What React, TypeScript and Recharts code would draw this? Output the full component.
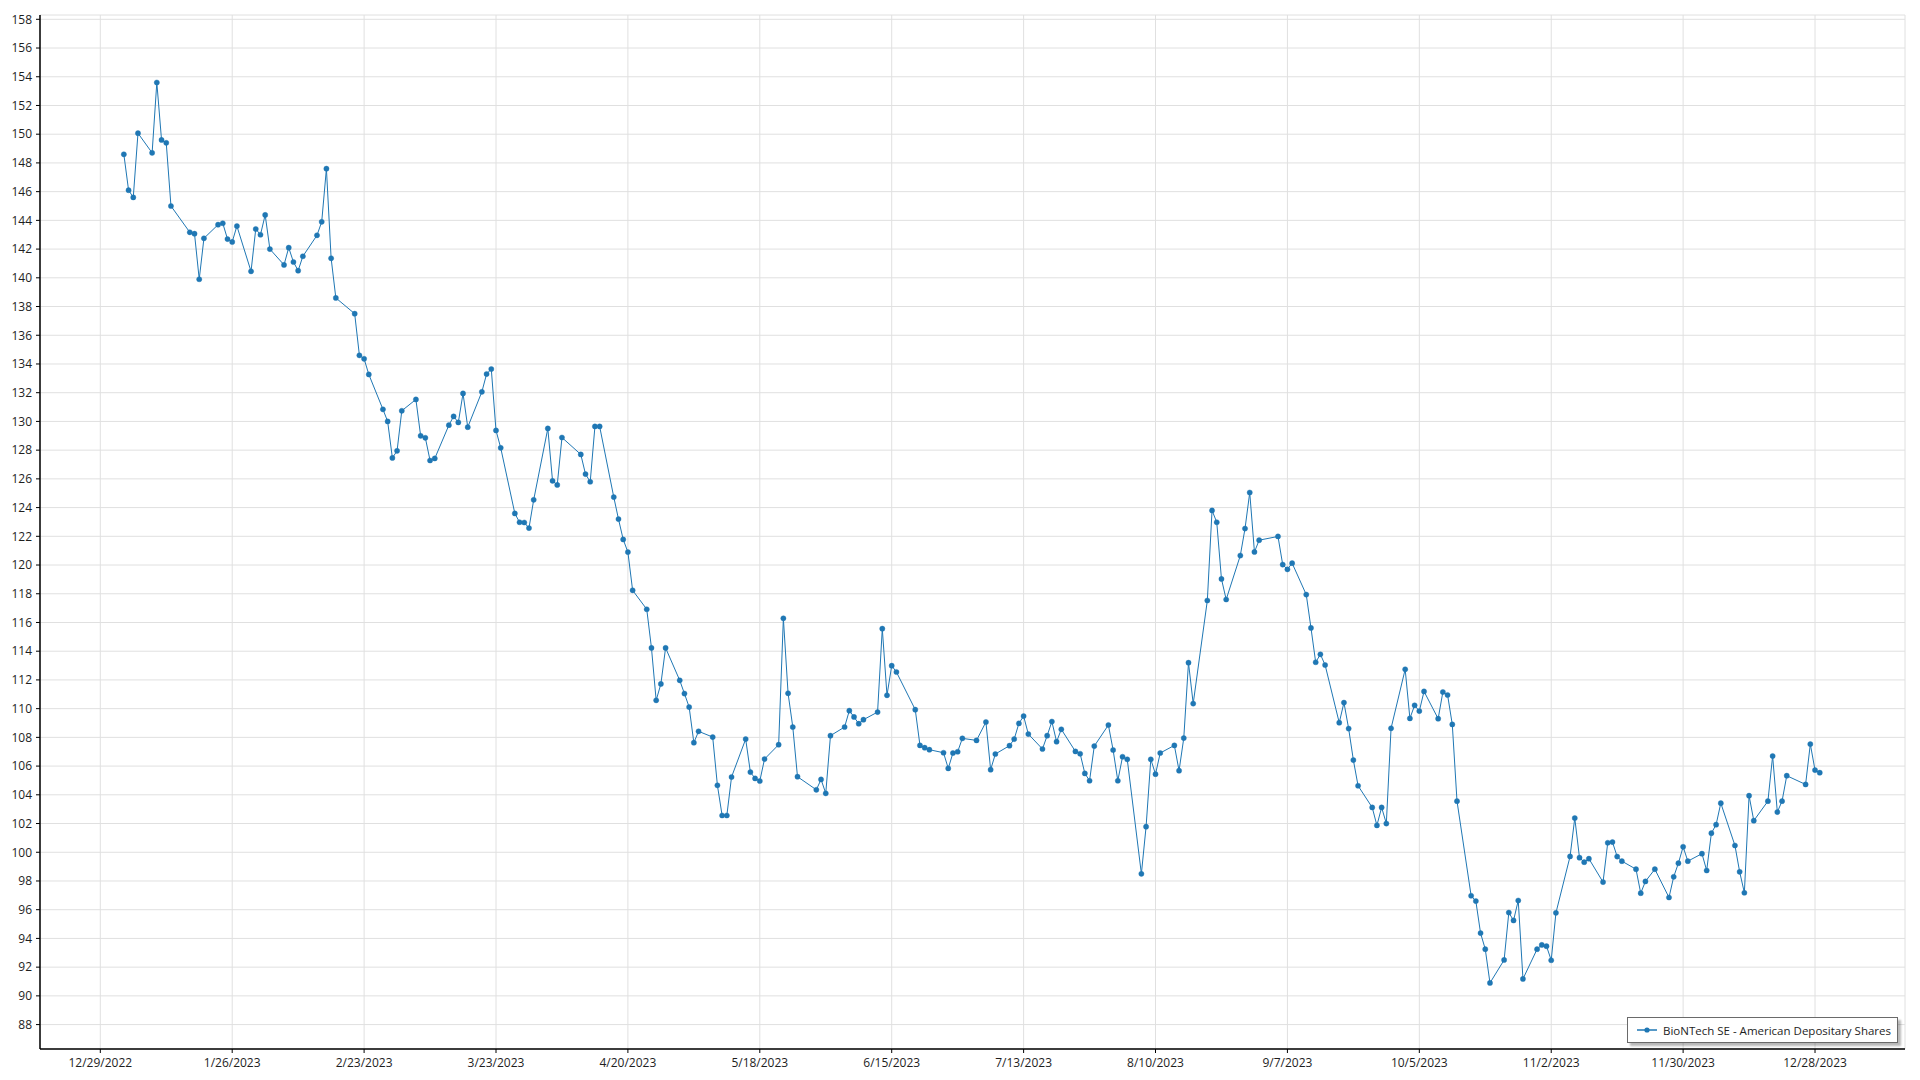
import React from 'react';
import { LineChart, Line, XAxis, YAxis, CartesianGrid, Legend } from 'recharts';

const seriesName = 'BioNTech SE - American Depositary Shares';

const tradeDates = [
  '2023-01-03','2023-01-04','2023-01-05','2023-01-06','2023-01-09','2023-01-10','2023-01-11','2023-01-12','2023-01-13',
  '2023-01-17','2023-01-18','2023-01-19','2023-01-20','2023-01-23','2023-01-24','2023-01-25','2023-01-26','2023-01-27',
  '2023-01-30','2023-01-31','2023-02-01','2023-02-02','2023-02-03','2023-02-06','2023-02-07','2023-02-08','2023-02-09',
  '2023-02-10','2023-02-13','2023-02-14','2023-02-15','2023-02-16','2023-02-17','2023-02-21','2023-02-22','2023-02-23',
  '2023-02-24','2023-02-27','2023-02-28','2023-03-01','2023-03-02','2023-03-03','2023-03-06','2023-03-07','2023-03-08',
  '2023-03-09','2023-03-10','2023-03-13','2023-03-14','2023-03-15','2023-03-16','2023-03-17','2023-03-20','2023-03-21',
  '2023-03-22','2023-03-23','2023-03-24','2023-03-27','2023-03-28','2023-03-29','2023-03-30','2023-03-31','2023-04-03',
  '2023-04-04','2023-04-05','2023-04-06','2023-04-10','2023-04-11','2023-04-12','2023-04-13','2023-04-14','2023-04-17',
  '2023-04-18','2023-04-19','2023-04-20','2023-04-21','2023-04-24','2023-04-25','2023-04-26','2023-04-27','2023-04-28',
  '2023-05-01','2023-05-02','2023-05-03','2023-05-04','2023-05-05','2023-05-08','2023-05-09','2023-05-10','2023-05-11',
  '2023-05-12','2023-05-15','2023-05-16','2023-05-17','2023-05-18','2023-05-19','2023-05-22','2023-05-23','2023-05-24',
  '2023-05-25','2023-05-26','2023-05-30','2023-05-31','2023-06-01','2023-06-02','2023-06-05','2023-06-06','2023-06-07',
  '2023-06-08','2023-06-09','2023-06-12','2023-06-13','2023-06-14','2023-06-15','2023-06-16','2023-06-20','2023-06-21',
  '2023-06-22','2023-06-23','2023-06-26','2023-06-27','2023-06-28','2023-06-29','2023-06-30','2023-07-03','2023-07-05',
  '2023-07-06','2023-07-07','2023-07-10','2023-07-11','2023-07-12','2023-07-13','2023-07-14','2023-07-17','2023-07-18',
  '2023-07-19','2023-07-20','2023-07-21','2023-07-24','2023-07-25','2023-07-26','2023-07-27','2023-07-28','2023-07-31',
  '2023-08-01','2023-08-02','2023-08-03','2023-08-04','2023-08-07','2023-08-08','2023-08-09','2023-08-10','2023-08-11',
  '2023-08-14','2023-08-15','2023-08-16','2023-08-17','2023-08-18','2023-08-21','2023-08-22','2023-08-23','2023-08-24',
  '2023-08-25','2023-08-28','2023-08-29','2023-08-30','2023-08-31','2023-09-01','2023-09-05','2023-09-06','2023-09-07',
  '2023-09-08','2023-09-11','2023-09-12','2023-09-13','2023-09-14','2023-09-15','2023-09-18','2023-09-19','2023-09-20',
  '2023-09-21','2023-09-22','2023-09-25','2023-09-26','2023-09-27','2023-09-28','2023-09-29','2023-10-02','2023-10-03',
  '2023-10-04','2023-10-05','2023-10-06','2023-10-09','2023-10-10','2023-10-11','2023-10-12','2023-10-13','2023-10-16',
  '2023-10-17','2023-10-18','2023-10-19','2023-10-20','2023-10-23','2023-10-24','2023-10-25','2023-10-26','2023-10-27',
  '2023-10-30','2023-10-31','2023-11-01','2023-11-02','2023-11-03','2023-11-06','2023-11-07','2023-11-08','2023-11-09',
  '2023-11-10','2023-11-13','2023-11-14','2023-11-15','2023-11-16','2023-11-17','2023-11-20','2023-11-21','2023-11-22',
  '2023-11-24','2023-11-27','2023-11-28','2023-11-29','2023-11-30','2023-12-01','2023-12-04','2023-12-05','2023-12-06',
  '2023-12-07','2023-12-08','2023-12-11','2023-12-12','2023-12-13','2023-12-14','2023-12-15','2023-12-18','2023-12-19',
  '2023-12-20','2023-12-21','2023-12-22','2023-12-26','2023-12-27','2023-12-28','2023-12-29',
];

const closePrices = [
  148.6,146.1,145.6,150.07,148.7,153.6,149.6,149.4,145.0,
  143.17,143.07,139.9,142.75,143.7,143.8,142.7,142.5,143.6,
  140.45,143.4,143.0,144.38,142.0,140.9,142.1,141.1,140.5,
  141.5,142.96,143.9,147.6,141.36,138.6,137.5,134.6,134.36,
  133.27,130.84,130.0,127.46,127.95,130.74,131.53,129.0,128.86,
  127.28,127.42,129.74,130.35,129.93,131.95,129.6,132.06,133.3,
  133.65,129.37,128.16,123.59,122.98,122.96,122.57,124.54,129.51,
  125.86,125.58,128.88,127.7,126.33,125.8,129.65,129.65,124.73,
  123.2,121.78,120.9,118.24,116.92,114.23,110.58,111.72,114.23,
  111.97,111.05,110.11,107.63,108.42,108.02,104.66,102.56,102.56,
  105.24,107.88,105.58,105.14,104.96,106.49,107.49,116.29,111.07,
  108.72,105.26,104.35,105.07,104.1,108.12,108.72,109.86,109.42,
  108.95,109.23,109.76,115.57,110.93,112.99,112.55,109.93,107.44,
  107.28,107.14,106.93,105.84,106.91,107.0,107.93,107.79,109.07,
  105.75,106.84,107.42,107.88,108.97,109.48,108.23,107.19,108.12,
  109.1,107.7,108.56,107.02,106.86,105.49,104.98,107.39,108.86,
  107.12,104.98,106.65,106.47,98.5,101.78,106.47,105.44,106.91,
  107.44,105.68,107.95,113.2,110.35,117.53,123.8,122.98,119.03,
  117.6,120.66,122.54,125.05,120.91,121.73,121.99,120.03,119.7,
  120.13,117.94,115.62,113.23,113.78,113.04,109.02,110.42,108.61,
  106.42,104.63,103.12,101.87,103.12,102.0,108.63,112.74,109.32,
  110.23,109.83,111.2,109.3,111.16,110.95,108.9,103.56,96.97,
  96.6,94.37,93.25,90.9,92.5,95.8,95.25,96.64,91.18,
  93.25,93.55,93.46,92.48,95.78,99.71,102.38,99.62,99.31,
  99.55,97.92,100.66,100.71,99.7,99.38,98.82,97.15,97.97,
  98.82,96.85,98.29,99.24,100.38,99.38,99.9,98.73,101.33,
  101.92,103.42,100.47,98.64,97.18,103.94,102.2,103.56,106.7,
  102.8,103.56,105.33,104.72,107.53,105.72,105.54,
];

const xTickDates = [
  '2022-12-29','2023-01-26','2023-02-23','2023-03-23','2023-04-20','2023-05-18','2023-06-15',
  '2023-07-13','2023-08-10','2023-09-07','2023-10-05','2023-11-02','2023-11-30','2023-12-28',
];

const yTicks = [88,90,92,94,96,98,100,102,104,106,108,110,112,114,116,118,120,122,124,126,128,130,132,134,136,138,140,142,144,146,148,150,152,154,156,158];

const xDomain = [-12.8, 383.1];
const yDomain = [86.3, 158.3];

const ORIGIN = Date.UTC(2022, 11, 29);
const DAY = 86400000;
const toDay = (iso: string) => {
  const [y, m, d] = iso.split('-').map(Number);
  return (Date.UTC(y, m - 1, d) - ORIGIN) / DAY;
};
const fmtDate = (v: number) => {
  const dt = new Date(ORIGIN + Math.round(v) * DAY);
  return `${dt.getUTCMonth() + 1}/${dt.getUTCDate()}/${dt.getUTCFullYear()}`;
};

const data = tradeDates.map((d, i) => ({ day: toDay(d), price: closePrices[i] }));
const xTicks = xTickDates.map(toDay);
const minorTicks = Array.from({ length: 180 }, (_, i) => Math.round((86.4 + i * 0.4) * 10) / 10).filter((v) => v <= 158);

const FONT = "'Segoe UI', 'Open Sans', sans-serif";
const BLUE = '#1f77b4';

const LegendBox = () => (
  <div
    style={{
      boxSizing: 'border-box',
      width: 271,
      height: 26,
      border: '1.5px solid #6a6a6a',
      background: '#fff',
      boxShadow: '3px 3px 2px rgba(0,0,0,0.28)',
      display: 'flex',
      alignItems: 'center',
      paddingLeft: 9,
      fontFamily: FONT,
      fontSize: 11.5,
      color: '#1e1e1e',
      whiteSpace: 'nowrap',
    }}
  >
    <svg width={20} height={8} style={{ marginRight: 6 }}>
      <line x1={0} y1={4} x2={20} y2={4} stroke={BLUE} strokeWidth={1.5} />
      <circle cx={10} cy={4} r={2.6} fill={BLUE} />
    </svg>
    <span>{seriesName}</span>
  </div>
);

export default function App() {
  return (
    <div style={{ fontFamily: FONT }}>
      <LineChart width={1904} height={1064} data={data} margin={{ top: 7, right: 7, bottom: 0, left: 0 }}>
        <CartesianGrid stroke="#e0e0e0" strokeWidth={1} />
        <XAxis
          dataKey="day"
          type="number"
          domain={xDomain}
          allowDataOverflow
          ticks={xTicks}
          interval={0}
          tickFormatter={fmtDate}
          height={23}
          tickSize={4}
          tickMargin={5}
          axisLine={{ stroke: '#000', strokeWidth: 1.5 }}
          tickLine={{ stroke: '#000' }}
          tick={{ fill: '#1e1e1e', fontSize: 12 }}
        />
        <XAxis
          xAxisId="top"
          orientation="top"
          dataKey="day"
          type="number"
          domain={xDomain}
          allowDataOverflow
          height={0}
          tick={false}
          tickLine={false}
          axisLine={{ stroke: '#000', strokeWidth: 1.2 }}
        />
        <YAxis
          yAxisId="minor"
          type="number"
          domain={yDomain}
          allowDataOverflow
          ticks={minorTicks}
          interval={0}
          width={0}
          tick={false}
          tickSize={2}
          axisLine={false}
          tickLine={{ stroke: '#000' }}
        />
        <YAxis
          type="number"
          domain={yDomain}
          allowDataOverflow
          ticks={yTicks}
          interval={0}
          width={32}
          tickSize={4}
          tickMargin={4}
          axisLine={{ stroke: '#000', strokeWidth: 1.5 }}
          tickLine={{ stroke: '#000' }}
          tick={{ fill: '#1e1e1e', fontSize: 12 }}
        />
        <YAxis
          yAxisId="right"
          orientation="right"
          type="number"
          domain={yDomain}
          allowDataOverflow
          width={0}
          tick={false}
          tickLine={false}
          axisLine={{ stroke: '#000', strokeWidth: 1.2 }}
        />
        <Line
          type="linear"
          dataKey="price"
          name={seriesName}
          stroke={BLUE}
          strokeWidth={1}
          dot={{ r: 2.6, fill: BLUE, stroke: BLUE, strokeWidth: 0.4 }}
          activeDot={false}
          isAnimationActive={false}
        />
        <Legend
          layout="horizontal"
          verticalAlign="middle"
          align="center"
          wrapperStyle={{ left: 1619, top: 1009, width: 271, height: 26 }}
          content={() => <LegendBox />}
        />
      </LineChart>
    </div>
  );
}
